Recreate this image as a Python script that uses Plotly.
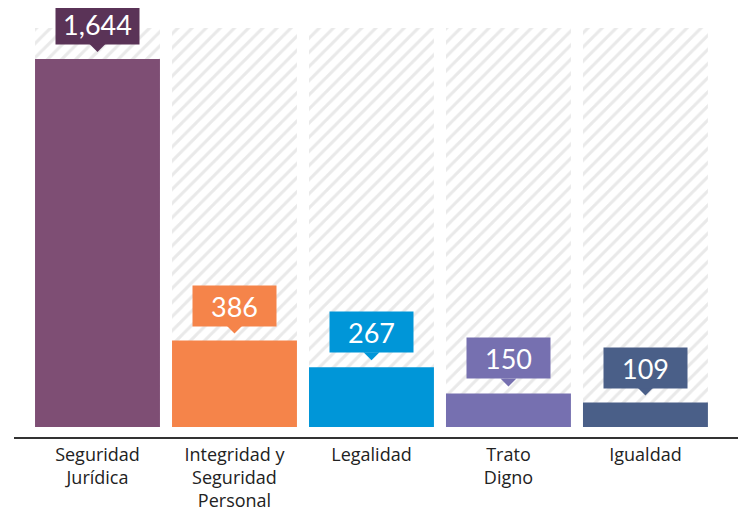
import plotly.graph_objects as go

categories = ["Seguridad<br>Jurídica", "Integridad y<br>Seguridad<br>Personal", "Legalidad", "Trato<br>Digno", "Igualdad"]
values = [1644, 386, 267, 150, 109]
value_labels = ["1,644", "386", "267", "150", "109"]
background_value = 1782

bar_colors = ["#7e4e74", "#f5844a", "#0096d8", "#7670b0", "#4a5f88"]
label_colors = ["#5a3357", "#f5844a", "#0096d8", "#7670b0", "#4a5f88"]

x = list(range(len(categories)))

fig = go.Figure()

# hatched background bars
fig.add_trace(go.Bar(
    x=x, y=[background_value] * len(x), width=0.912,
    marker=dict(color="white", line=dict(width=0),
                pattern=dict(shape="/", fgcolor="#d3d3d3", bgcolor="white",
                             size=10, solidity=0.3)),
    hoverinfo="skip", showlegend=False,
))

fig.add_trace(go.Bar(
    x=x, y=values, width=0.912,
    marker=dict(color=bar_colors, line=dict(width=0)),
    showlegend=False,
))

for i, v in enumerate(values):
    fig.add_annotation(
        x=i, y=v, text=value_labels[i], showarrow=False,
        xanchor="center", yanchor="bottom", yshift=14,
        width=75, height=32, borderpad=4,
        bgcolor=label_colors[i],
        font=dict(family="Lato", size=27, color="white"),
    )
    # little pointer under the label box
    fig.add_shape(
        type="path", xref="x", yref="y",
        xsizemode="pixel", ysizemode="pixel", xanchor=i, yanchor=v,
        path="M -8,15 L 8,15 L 0,7 Z",
        fillcolor=label_colors[i], line=dict(width=0),
    )

# page has an 8px body margin, so the figure is 8px smaller than the window
fig.update_layout(
    width=738, height=504,
    margin=dict(l=6, r=0, t=0, b=75),
    barmode="overlay",
    plot_bgcolor="white", paper_bgcolor="white",
    xaxis=dict(range=[-0.6095, 4.734], tickvals=x, ticktext=categories,
               showgrid=False, zeroline=False, showline=True,
               linecolor="#333333", linewidth=2, ticks="",
               tickfont=dict(family="Open Sans", size=18, color="#222222")),
    yaxis=dict(range=[-44.7, 1871.9], visible=False, showgrid=False, zeroline=False),
)

fig.write_html("out.html")
